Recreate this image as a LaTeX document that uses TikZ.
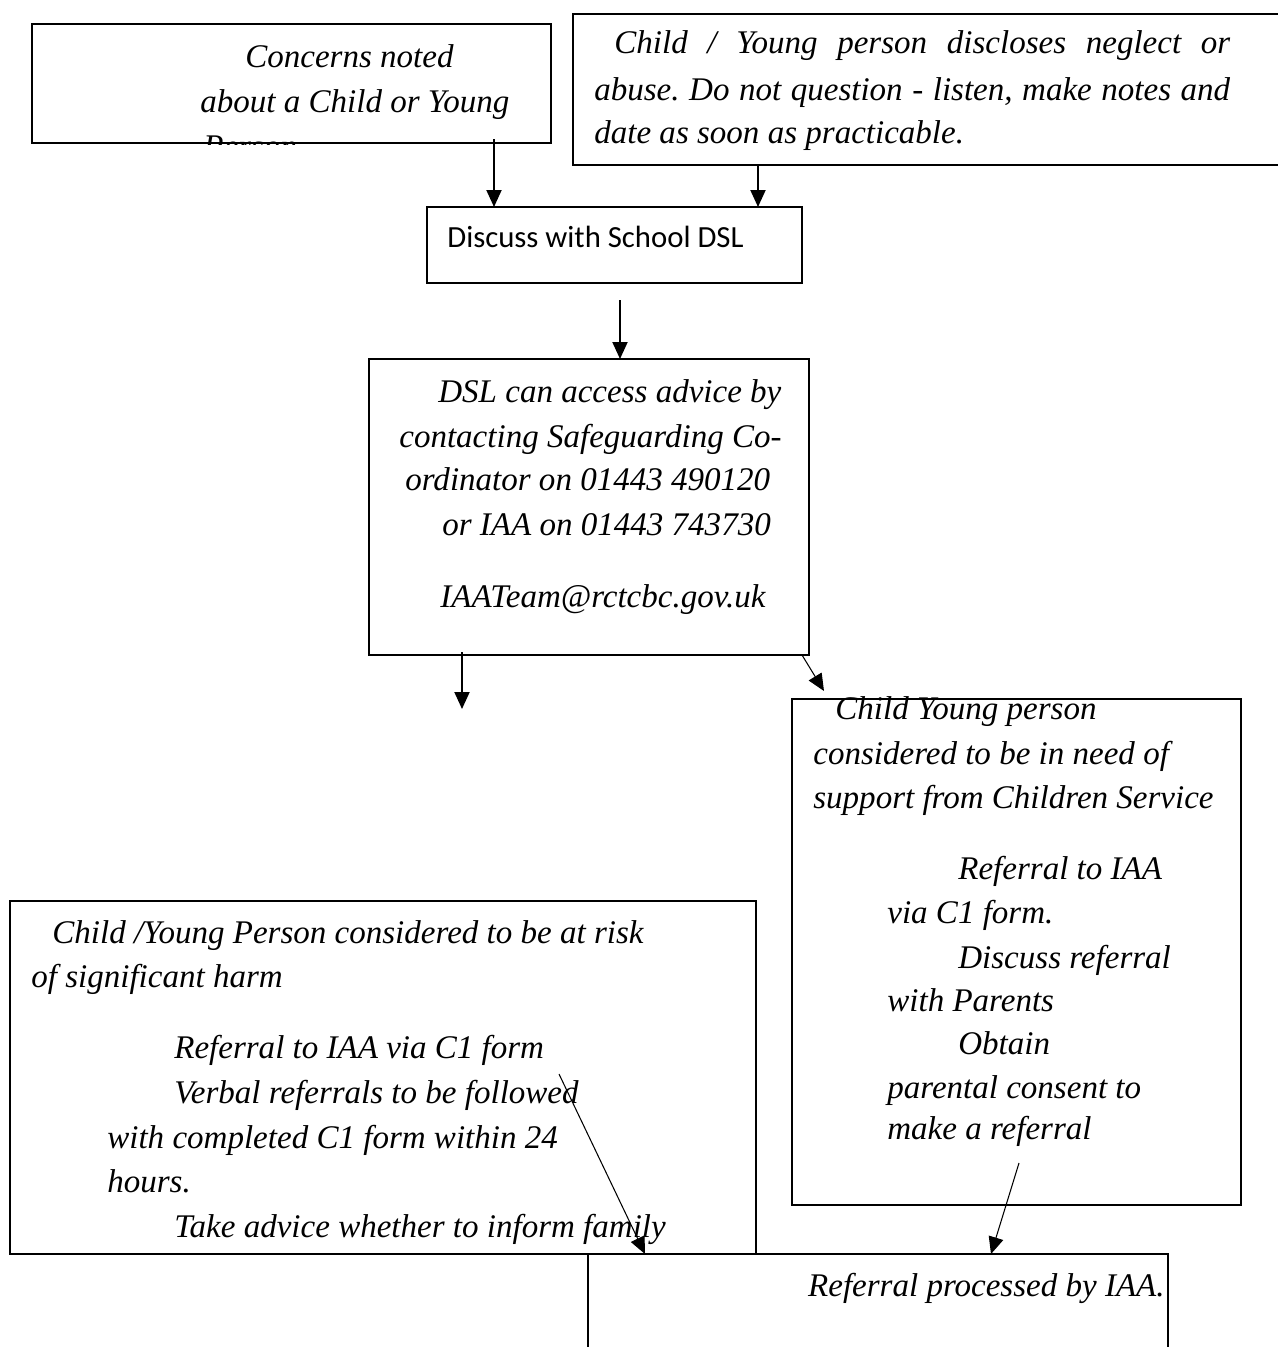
\documentclass[tikz,border=0pt]{standalone}
\usepackage{fontspec}
\usepackage{tikz}
\usetikzlibrary{arrows.meta}
\setmainfont{Liberation Serif}
\newfontfamily\calibrifont{Carlito}
\frenchspacing

\begin{document}
\begin{tikzpicture}[x=0.02cm, y=-0.02cm,
  box/.style={draw, line width=1.1pt, anchor=north west, inner sep=0pt, outer sep=0pt},
  line/.style={anchor=base west, inner sep=0pt, font=\fontsize{18.8}{22}\selectfont\itshape},
  arr/.style={line width=1.1pt, -{Triangle[length=0.34cm, width=0.3cm]}},
  thinarr/.style={line width=0.6pt, -{Triangle[length=0.34cm, width=0.3cm]}}]
  \useasboundingbox (0,0) rectangle (1278,1347);

  % boxes
  \node[box, minimum width=10.38cm, minimum height=2.38cm] (concerns) at (32,24) {};
  \node[box, minimum width=14.54cm, minimum height=3.02cm] (disclose) at (573,14) {};
  \node[box, minimum width=7.5cm, minimum height=1.52cm] (discuss) at (427,207) {};
  \node[box, minimum width=8.8cm, minimum height=5.92cm] (dsl) at (369,359) {};
  \node[box, minimum width=8.98cm, minimum height=10.12cm] (need) at (792,699) {};
  \node[box, minimum width=14.92cm, minimum height=7.06cm] (risk) at (10,901) {};
  \node[box, minimum width=11.6cm, minimum height=2.92cm] (processed) at (588,1254) {};

  % texts
  \node[line] (concerns1) at (245,67) {Concerns noted};
  \node[line] (concerns2) at (200,112) {about a Child or Young};
  \begin{scope}
    \clip (32,24) rectangle (551,144);
    \node[line] (concerns3) at (203,157) {Person};
  \end{scope}

  \node[line] (disclose1) at (614,53) {\makebox[12.32cm][s]{Child / Young person discloses neglect or}};
  \node[line] (disclose2) at (594,100) {\makebox[12.72cm][s]{abuse. Do not question - listen, make notes and}};
  \node[line] (disclose3) at (594,143) {date as soon as practicable.};

  \node[anchor=base west, inner sep=0pt, font=\fontsize{17.5}{20}\selectfont\calibrifont]
    (discusstext) at (447,247) {Discuss with School DSL};

  \foreach \x/\y/\t [count=\i] in {438/402/{DSL can access advice by},
      399/447/{contacting Safeguarding Co-}, 405/490/{ordinator on 01443 490120},
      442/535/{or IAA on 01443 743730}, 440/607/{IAATeam@rctcbc.gov.uk}} {
    \node[line] (dsl\i) at (\x,\y) {\t};
  }

  \foreach \x/\y/\t [count=\i] in {835/719/{Child Young person},
      813/764/{considered to be in need of}, 813/808/{support from Children Service},
      958/879/{Referral to IAA}, 887/923/{via C1 form.},
      958/968/{Discuss referral}, 887/1011/{with Parents},
      958/1054/{Obtain}, 887/1098/{parental consent to}, 887/1139/{make a referral}} {
    \node[line] (need\i) at (\x,\y) {\t};
  }

  \foreach \x/\y/\t [count=\i] in {52/943/{Child /Young Person considered to be at risk},
      31/987/{of significant harm}, 174/1058/{Referral to IAA via C1 form},
      174/1103/{Verbal referrals to be followed}, 107/1148/{with completed C1 form within 24},
      107/1192/{hours.}, 174/1237/{Take advice whether to inform family}} {
    \node[line] (risk\i) at (\x,\y) {\t};
  }

  \node[line, anchor=base east] (processedtext) at (1165,1296) {Referral processed by IAA.};

  % arrows
  \coordinate (a1) at (494,139);
  \coordinate (a2) at (758,165);
  \coordinate (a3) at (620,300);
  \coordinate (a4) at (462,652);
  \coordinate (a4end) at (462,709);
  \coordinate (a5) at (802,655);
  \coordinate (a5end) at (824,691);
  \coordinate (a6) at (559,1074);
  \coordinate (a6end) at (645,1254);
  \coordinate (a7) at (1019,1163);
  \coordinate (a7end) at (991,1254);
  \draw[arr] (a1) -- (a1 |- discuss.north);
  \draw[arr] (a2) -- (a2 |- discuss.north);
  \draw[arr] (a3) -- (a3 |- dsl.north);
  \draw[arr] (a4) -- (a4end);
  \draw[thinarr] (a5) -- (a5end);
  \draw[thinarr] (a6) -- (a6end);
  \draw[thinarr] (a7) -- (a7end);
\end{tikzpicture}
\end{document}
